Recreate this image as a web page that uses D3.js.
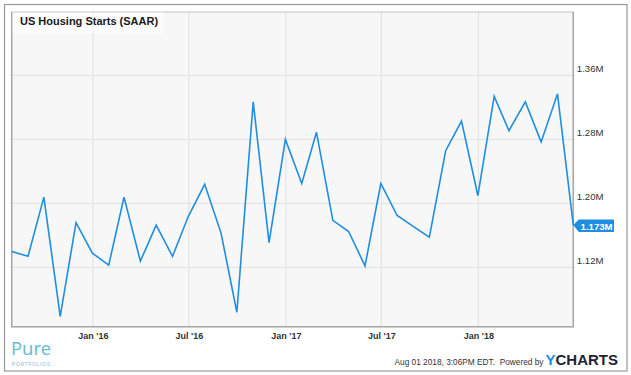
<!DOCTYPE html>
<html>
<head>
<meta charset="utf-8">
<script src="https://cdn.jsdelivr.net/npm/d3@7"></script>
<style>
  html, body { margin: 0; padding: 0; background: #fff; }
  svg { display: block; font-family: "Liberation Sans", Arial, Helvetica, sans-serif; }
</style>
</head>
<body>
<svg id="chart" width="631" height="375"></svg>
<script>
// ---- data (monthly, SAAR, millions) ----
const months = [
  "2015-07","2015-08","2015-09","2015-10","2015-11","2015-12",
  "2016-01","2016-02","2016-03","2016-04","2016-05","2016-06",
  "2016-07","2016-08","2016-09","2016-10","2016-11","2016-12",
  "2017-01","2017-02","2017-03","2017-04","2017-05","2017-06",
  "2017-07","2017-08","2017-09","2017-10","2017-11","2017-12",
  "2018-01","2018-02","2018-03","2018-04","2018-05","2018-06"
];
const starts = [
  1.140, 1.134, 1.208, 1.059, 1.176, 1.138,
  1.123, 1.208, 1.128, 1.173, 1.134, 1.184,
  1.224, 1.163, 1.064, 1.327, 1.151, 1.280,
  1.225, 1.289, 1.179, 1.165, 1.122, 1.225,
  1.185, 1.171, 1.158, 1.266, 1.303, 1.210,
  1.334, 1.291, 1.327, 1.277, 1.337, 1.173
];
const yTicks = [1.12, 1.20, 1.28, 1.36];
const xTickDates = ["2016-01-01","2016-07-01","2017-01-01","2017-07-01","2018-01-01"];
const xTickLabels = ["Jan '16","Jul '16","Jan '17","Jul '17","Jan '18"];
const title = "US Housing Starts (SAAR)";
const footerText = "Aug 01 2018, 3:06PM EDT.  Powered by";

// ---- layout ----
const svg = d3.select("#chart");
const L = 11.7, R = 573.3, T = 12, B = 326.7;
const blue = "#1f8ee0";

// month-end dates
const pts = months.map((m, i) => {
  const [yy, mm] = m.split("-").map(Number);
  return { date: new Date(yy, mm, 0), value: starts[i] };
});

const x = d3.scaleTime()
  .domain([pts[0].date, pts[pts.length - 1].date])
  .range([L, R]);
const y = d3.scaleLinear()
  .domain([1.046, 1.4394])
  .range([B, T]);

// outer frame
svg.append("rect")
  .attr("x", 4.5).attr("y", 4.5).attr("width", 622.5).attr("height", 366.5)
  .attr("fill", "#fff").attr("stroke", "#999").attr("stroke-width", 1.2);

// plot background
svg.append("rect")
  .attr("x", L).attr("y", T).attr("width", R - L).attr("height", B - T)
  .attr("fill", "#f7f7f7");

// gridlines
const parse = d3.timeParse("%Y-%m-%d");
const xTicks = xTickDates.map(parse);
svg.append("g").selectAll("line").data(yTicks).join("line")
  .attr("x1", L).attr("x2", R)
  .attr("y1", d => y(d)).attr("y2", d => y(d))
  .attr("stroke", "#e6e6e6").attr("stroke-width", 1.3);
svg.append("g").selectAll("line").data(xTicks).join("line")
  .attr("y1", T).attr("y2", B)
  .attr("x1", d => x(d)).attr("x2", d => x(d))
  .attr("stroke", "#e6e6e6").attr("stroke-width", 1.3);

// plot border
svg.append("rect")
  .attr("x", L).attr("y", T).attr("width", R - L).attr("height", B - T)
  .attr("fill", "none").attr("stroke", "#c4c4c4").attr("stroke-width", 1);
svg.append("path")
  .attr("d", `M${L},${T}V${B}H${R}V${T}`)
  .attr("fill", "none").attr("stroke", "#a8a8a8").attr("stroke-width", 1.5);

// title with translucent background
svg.append("rect")
  .attr("x", L + 0.8).attr("y", T + 0.5).attr("width", 151).attr("height", 20.5)
  .attr("fill", "#fff").attr("opacity", 0.6);
svg.append("text")
  .attr("x", 20).attr("y", 24.8)
  .attr("font-size", 11).attr("font-weight", "bold").attr("fill", "#1a1a1a")
  .text(title);

// line
const line = d3.line().x(d => x(d.date)).y(d => y(d.value));
svg.append("path").datum(pts)
  .attr("d", line)
  .attr("fill", "none").attr("stroke", blue)
  .attr("stroke-width", 1.6).attr("stroke-linejoin", "miter");

// y axis (right)
const yAxis = d3.axisRight(y).tickValues(yTicks).tickSize(0)
  .tickFormat(d => d3.format(".2f")(d) + "M");
const gy = svg.append("g").attr("transform", `translate(${R + 3.5},0)`).call(yAxis);
gy.select(".domain").remove();
gy.selectAll("text")
  .attr("x", 0).attr("dy", "-0.38em")
  .attr("font-size", 9.6).attr("fill", "#333")
  .attr("font-family", "Liberation Sans, Arial, sans-serif");

// x axis
const xAxis = d3.axisBottom(x).tickValues(xTicks).tickSize(0)
  .tickFormat((d, i) => xTickLabels[i]);
const gx = svg.append("g").attr("transform", `translate(0,${B})`).call(xAxis);
gx.select(".domain").remove();
gx.selectAll("text")
  .attr("y", 12.3).attr("dy", 0)
  .attr("font-size", 9).attr("font-weight", "bold").attr("fill", "#333")
  .attr("font-family", "Liberation Sans, Arial, sans-serif");

// last value flag
const last = pts[pts.length - 1];
const lx = x(last.date), ly = y(last.value);
svg.append("path")
  .attr("d", `M${lx},${ly}L${lx + 5.5},${ly - 5.5}H${lx + 40.7}V${ly + 7}H${lx + 5.5}Z`)
  .attr("fill", blue);
svg.append("text")
  .attr("x", lx + 23.3).attr("y", ly + 4.6)
  .attr("text-anchor", "middle")
  .attr("font-size", 9.6).attr("font-weight", "bold").attr("fill", "#fff")
  .text(d3.format(".3f")(last.value) + "M");

// footer
svg.append("text")
  .attr("x", 543.5).attr("y", 365.3).attr("text-anchor", "end")
  .attr("font-size", 8.3).attr("fill", "#333")
  .attr("xml:space", "preserve")
  .text(footerText);
const yc = svg.append("text")
  .attr("x", 545.5).attr("y", 365.3)
  .attr("font-size", 15).attr("font-weight", "bold").attr("fill", "#1f2233");
yc.append("tspan").attr("fill", blue).text("Y");
yc.append("tspan").text("CHARTS");

// logo
svg.append("text")
  .attr("x", 11).attr("y", 355.3)
  .attr("font-size", 18.5).attr("font-weight", 400).attr("fill", "#6dbcd4")
  .attr("font-family", "'Noto Sans', 'Open Sans', sans-serif")
  .attr("textLength", 40).attr("lengthAdjust", "spacingAndGlyphs")
  .text("Pure");
svg.append("text")
  .attr("x", 11.8).attr("y", 366.2)
  .attr("font-size", 5.2).attr("fill", "#7fc4dc").attr("letter-spacing", 0.55)
  .text("PORTFOLIOS");
</script>
</body>
</html>
